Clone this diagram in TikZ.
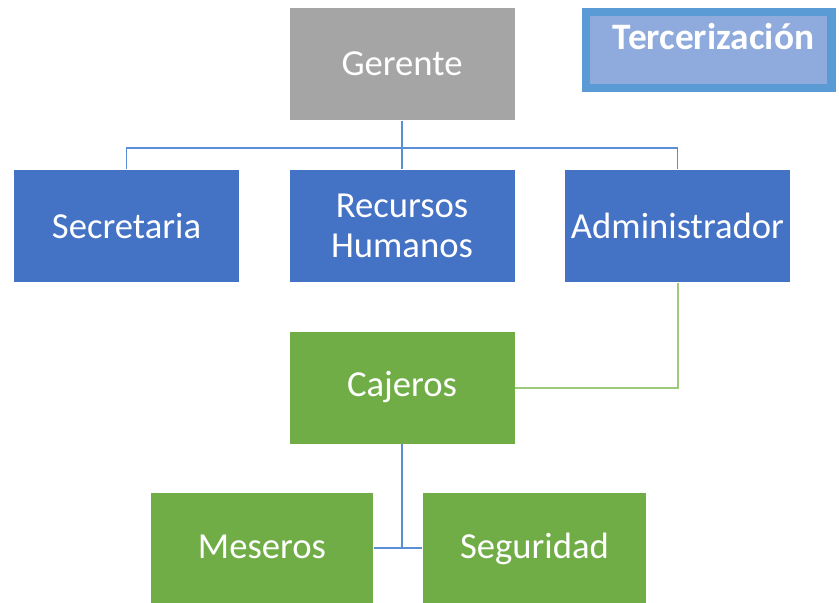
\documentclass[tikz,border=0pt]{standalone}
\usepackage{fontspec}
\setmainfont{Carlito}
\usepackage{tikz}
\definecolor{boxblue}{HTML}{4472C4}
\definecolor{boxgray}{HTML}{A5A5A5}
\definecolor{boxgreen}{HTML}{70AD47}
\definecolor{lineblue}{HTML}{5B8FD5}
\definecolor{linegreen}{HTML}{9CCB7C}
\definecolor{terfill}{HTML}{8FAADC}
\definecolor{terline}{HTML}{5B9BD5}
\tikzset{
every picture/.style={
line width=1pt
},
orgbox/.style={
minimum width=168.75pt, minimum height=84pt, text=white, align=center,
font=\fontsize{27.5}{29.5}\selectfont, inner sep=0pt
},
bluebox/.style={orgbox, fill=boxblue},
graybox/.style={orgbox, fill=boxgray},
greenbox/.style={orgbox, fill=boxgreen},
lowbox/.style={greenbox, minimum height=82.5pt, text height=17pt, text depth=2pt},
blueline/.style={draw=lineblue, line width=1.4pt},
greenline/.style={draw=linegreen, line width=1.5pt}
}

\begin{document}
\begin{tikzpicture}[x=0.75pt, y=-0.75pt]
  \useasboundingbox (0,0) rectangle (839,603);

  \node[graybox] (ger) at (402,64) {Gerente};
  \node[bluebox] (sec) at (126.5,226) {Secretaria};
  \node[bluebox] (rh) at (402,226) {Recursos\\Humanos};
  \node[bluebox] (adm) at (677.5,226) {Administrador};
  \node[greenbox] (caj) at (402,387.5) {Cajeros};
  \node[lowbox, minimum width=166.5pt] (mes) at (262,548) {Meseros};
  \node[lowbox, minimum width=167.25pt] (seg) at (534.5,548) {Seguridad};

  \node[fill=terfill, draw=terline, line width=6.5pt, minimum width=184pt, minimum height=57pt,
        inner sep=0pt] (ter) at (708.5,50) {};
  \node[text=white, font=\fontsize{28}{30}\selectfont\bfseries] (tertxt) at (713.5,37) {Tercerización};

  \coordinate (bus) at (402,148);
  \draw[blueline] (ger.south) -- (bus);
  \draw[blueline] (sec.north) |- (bus) -| (adm.north);
  \draw[blueline] (bus) -- (rh.north);

  \draw[greenline] (adm.south) |- (caj.east);

  \draw[blueline] (caj.south) -- (caj.south |- mes.east);
  \draw[blueline] (mes.east) -- (seg.west);
\end{tikzpicture}
\end{document}
